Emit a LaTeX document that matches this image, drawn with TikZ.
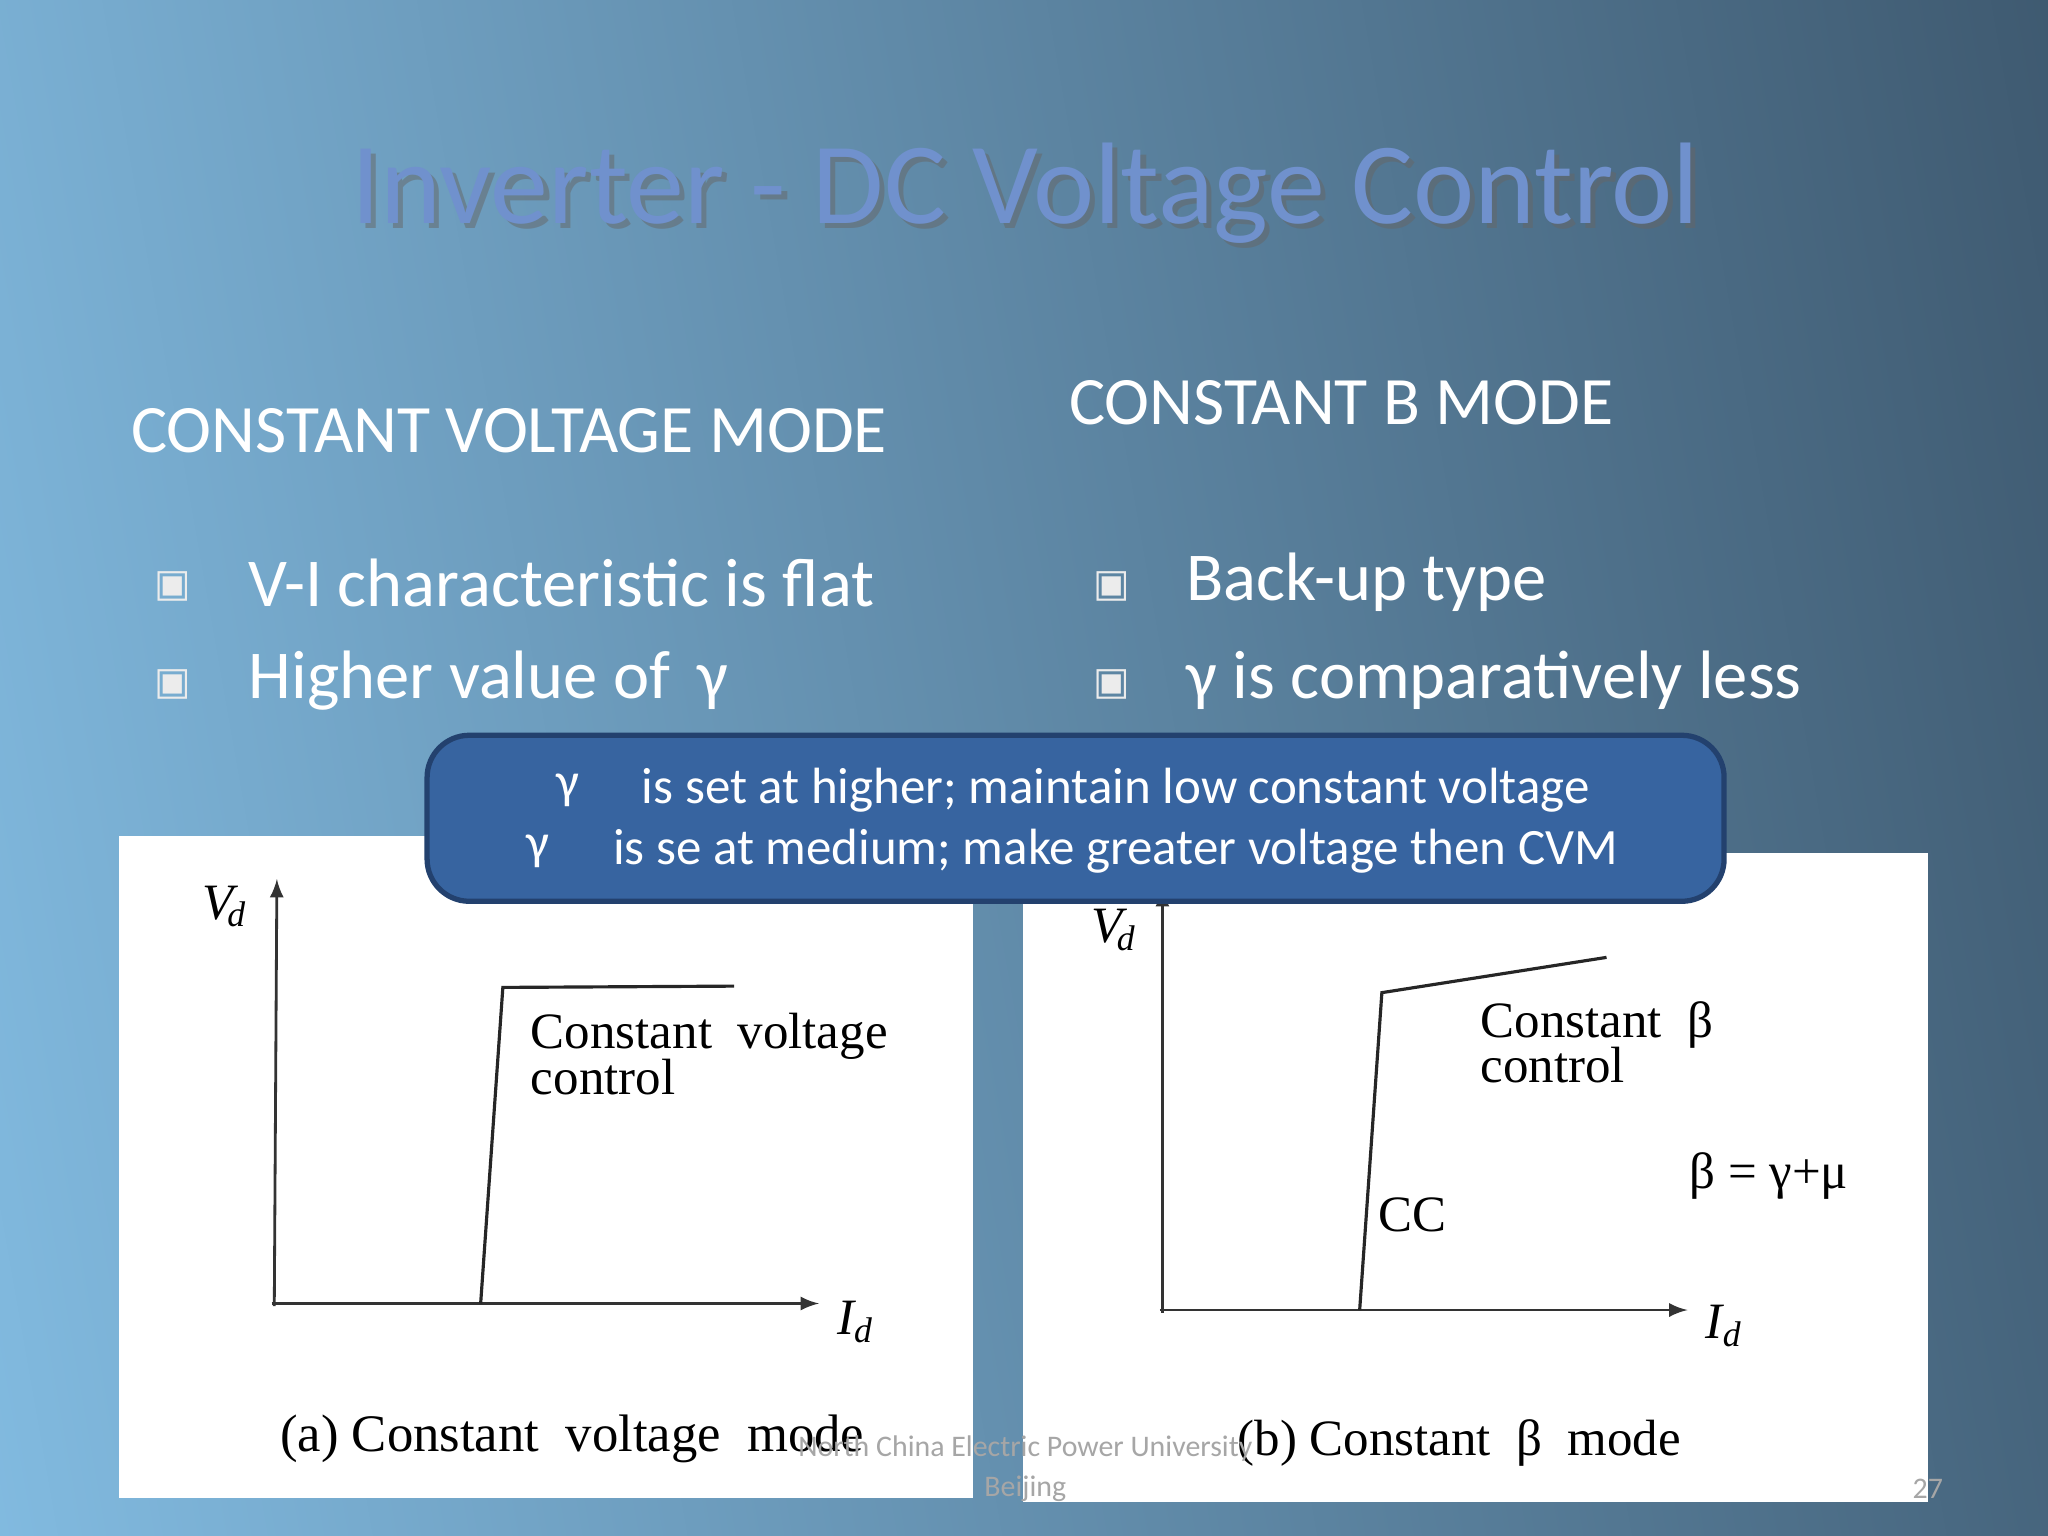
\documentclass[tikz,border=0pt]{standalone}
\usepackage{fontspec}
\setmainfont{Carlito}
\newfontfamily\serif{Liberation Serif}
\newfontfamily\sym{DejaVu Sans}
\definecolor{bgul}{RGB}{132,190,228}
\definecolor{bgur}{RGB}{60,86,108}
\definecolor{titc}{RGB}{112,145,205}
\definecolor{boxd}{RGB}{35,65,110}
\definecolor{boxf}{RGB}{55,100,160}
\begin{document}
\begin{tikzpicture}[x=0.01306cm,y=-0.01306cm,
  hd/.style={anchor=west,text=white,font=\fontsize{19.3}{22}\selectfont},
  bl/.style={anchor=west,text=white,font=\fontsize{19.5}{24}\selectfont},
  bs/.style={text=white!85!gray,font=\sym\fontsize{11}{12}\selectfont},
  panel/.style={fill=white,draw=none},
  ax/.style={draw=black!80,line width=0.8pt,-latex},
  crv/.style={draw=black!85,line width=0.9pt},
  lab/.style={anchor=west,font=\serif\fontsize{14.5}{15}\selectfont,align=left,inner sep=0pt},
  bt/.style={text=white,font=\fontsize{14.5}{16}\selectfont},
  ft/.style={text=gray!70,font=\fontsize{8.5}{10}\selectfont}]
\useasboundingbox (0,0) rectangle (1568,1176);
\shade[left color=bgul,right color=bgur,shading angle=100] (-200,-200) rectangle (1768,1376);
\node[text=black!60,opacity=0.5,font=\fontsize{33}{36}\selectfont] (tsh) at (789,152) {Inverter - DC Voltage Control};
\node[text=titc,font=\fontsize{33}{36}\selectfont] (title) at (785,148) {Inverter - DC Voltage Control};
\node[hd] (h1) at (91,330) {CONSTANT VOLTAGE MODE};
\node[hd] (h2) at (809,308) {CONSTANT B MODE};
\node[bs] (b1) at (132,449) {▣};
\node[bs] (b2) at (132,524) {▣};
\node[bs] (b3) at (851,449) {▣};
\node[bs] (b4) at (851,524) {▣};
\node[bl] (t1) at (181,446) {V-I characteristic is flat};
\node[bl] (t2) at (181,521) {Higher value of\, γ};
\node[bl] (t3) at (899,446) {Back-up type};
\node[bl] (t4) at (899,521) {γ is comparatively less};
% panels
\fill[panel] (91,640) rectangle (745,1147);
\fill[panel] (783,653) rectangle (1476,1150);
% left plot
\coordinate (o1) at (210,1000);
\coordinate (ya) at (212,673);
\coordinate (xa) at (627,998);
\draw[ax] (o1) -- (ya);
\draw[ax] (208,998) -- (xa);
\coordinate (c1) at (368,998); \coordinate (c2) at (385,756); \coordinate (c3) at (562,755);
\draw[crv] (c1) -- (c2) -- (c3);
\node[lab] (l1) at (406,807) {Constant\ \ voltage\\[-2pt]control};
\node[font=\serif\itshape\fontsize{14.5}{15}\selectfont] (vd1) at (172,694) {V\textsubscript{\!d}};
\node[font=\serif\itshape\fontsize{14.5}{15}\selectfont] (id1) at (655,1012) {I\textsubscript{d}};
\node[font=\serif\fontsize{15}{16}\selectfont,anchor=west] (cap1) at (205,1102) {(a) Constant\ \ voltage\ \ mode};
% right plot
\coordinate (o2) at (890,1005);
\coordinate (yb) at (890,680);
\coordinate (xb) at (1292,1003);
\draw[ax] (o2) -- (yb);
\draw[ax] (888,1003) -- (xb);
\coordinate (d1) at (1041,1003); \coordinate (d2) at (1058,760); \coordinate (d3) at (1230,733);
\draw[crv] (d1) -- (d2) -- (d3);
\node[lab] (l2) at (1133,798) {Constant\ \ β\\[-2pt]control};
\node[lab] (cc) at (1055,930) {CC};
\node[lab] (eq) at (1293,900) {β\ = γ+μ};
\node[font=\serif\itshape\fontsize{14.5}{15}\selectfont] (vd2) at (853,712) {V\textsubscript{\!d}};
\node[font=\serif\itshape\fontsize{14.5}{15}\selectfont] (id2) at (1320,1015) {I\textsubscript{d}};
\node[font=\serif\fontsize{14.5}{16}\selectfont,anchor=west] (cap2) at (938,1105) {(b) Constant\ \ β\ \ mode};
% blue box
\node[draw=boxd,line width=1.5pt,fill=boxf,rounded corners=12pt,
  minimum width=12.97cm,minimum height=1.66cm] (box) at (823.5,626.5) {};
\node[bt] (g1) at (435,605) {γ};
\node[bt,anchor=west] (s1) at (482,605) {is set at higher; maintain low constant voltage};
\node[bt] (g2) at (412,652) {γ};
\node[bt,anchor=west] (s2) at (460,652) {is se at medium; make greater voltage then CVM};
% footer
\node[ft] (f1) at (785,1109) {North China Electric Power University};
\node[ft] (f2) at (785,1140) {Beijing};
\node[ft] (f3) at (1476,1140) {27};
\end{tikzpicture}
\end{document}
